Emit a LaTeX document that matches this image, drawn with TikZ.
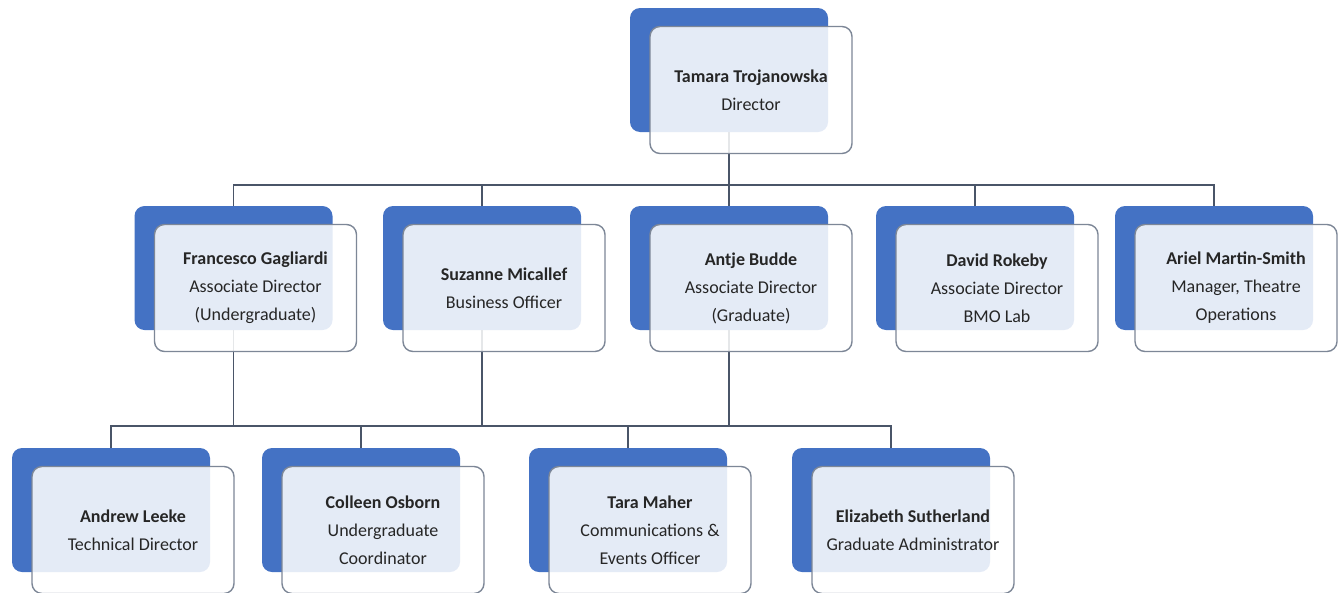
\documentclass[tikz,border=0pt]{standalone}
\usepackage{fontspec}
\setmainfont{Carlito}
\usepackage{xcolor}
\usepackage{tikz}

\definecolor{backblue}{HTML}{4472C4}
\definecolor{frameline}{HTML}{7D8797}
\definecolor{linkline}{HTML}{4A5568}
\definecolor{inktext}{HTML}{262626}

\tikzset{
  backbox/.style={fill=backblue, rounded corners=10pt, minimum width=198pt,
    minimum height=124pt, inner sep=0pt},
  frontbox/.style={draw=frameline, line width=1.4pt, fill=white, fill opacity=0.86,
    text opacity=1, rounded corners=10pt, minimum width=202pt, minimum height=127pt,
    inner sep=0pt, align=center, text=inktext, font=\fontsize{18}{28}\selectfont,
    xshift=22pt, yshift=-20pt},
  link/.style={draw=linkline, line width=1.6pt}
}

\begin{document}
\begin{tikzpicture}[x=1pt, y=-1pt]
            \useasboundingbox[fill=white] (0, 0) rectangle (1343, 592);
            \coordinate (topbus) at (700, 185);
            \coordinate (lowbus) at (500, 426);
            % back boxes
            \node[backbox] (ttB) at (729, 70) {};
            \node[backbox] (fgB) at (233.5, 268) {};
            \node[backbox] (smB) at (482, 268) {};
            \node[backbox] (abB) at (729, 268) {};
            \node[backbox] (drB) at (975, 268) {};
            \node[backbox] (amB) at (1214, 268) {};
            \node[backbox] (alB) at (111, 510) {};
            \node[backbox] (coB) at (361, 510) {};
            \node[backbox] (tmB) at (628, 510) {};
            \node[backbox] (esB) at (891, 510) {};
            % connectors
            \draw[link] (ttB.south) -- (ttB.south |- topbus);
            \draw[link] (fgB.north) |- (amB.north |- topbus) -- (amB.north);
            \draw[link] (smB.north) -- (smB.north |- topbus);
            \draw[link] (abB.north) -- (abB.north |- topbus);
            \draw[link] (drB.north) -- (drB.north |- topbus);
            \draw[link] (fgB.south) -- (fgB.south |- lowbus);
            \draw[link] (smB.south) -- (smB.south |- lowbus);
            \draw[link] (abB.south) -- (abB.south |- lowbus);
            \draw[link] (alB.north) |- (esB.north |- lowbus) -- (esB.north);
            \draw[link] (coB.north) -- (coB.north |- lowbus);
            \draw[link] (tmB.north) -- (tmB.north |- lowbus);
            % front boxes
            \node[frontbox] (tt) at (ttB) {\textbf{Tamara Trojanowska}\\Director};
            \node[frontbox] (fg) at (fgB) {\textbf{Francesco Gagliardi}\\Associate Director\\(Undergraduate)};
            \node[frontbox] (sm) at (smB) {\textbf{Suzanne Micallef}\\Business Officer};
            \node[frontbox] (ab) at (abB) {\textbf{Antje Budde}\\Associate Director\\(Graduate)};
            \node[frontbox] (dr) at (drB) {\textbf{David Rokeby}\\Associate Director\\BMO Lab};
            \node[frontbox] (am) at (amB) {\textbf{Ariel Martin-Smith}\\Manager, Theatre\\Operations};
            \node[frontbox] (al) at (alB) {\textbf{Andrew Leeke}\\Technical Director};
            \node[frontbox] (co) at (coB) {\textbf{Colleen Osborn}\\Undergraduate\\Coordinator};
            \node[frontbox] (tm) at (tmB) {\textbf{Tara Maher}\\Communications \&\\Events Officer};
            \node[frontbox] (es) at (esB) {\textbf{Elizabeth Sutherland}\\Graduate Administrator};
          \end{tikzpicture}
\end{document}
